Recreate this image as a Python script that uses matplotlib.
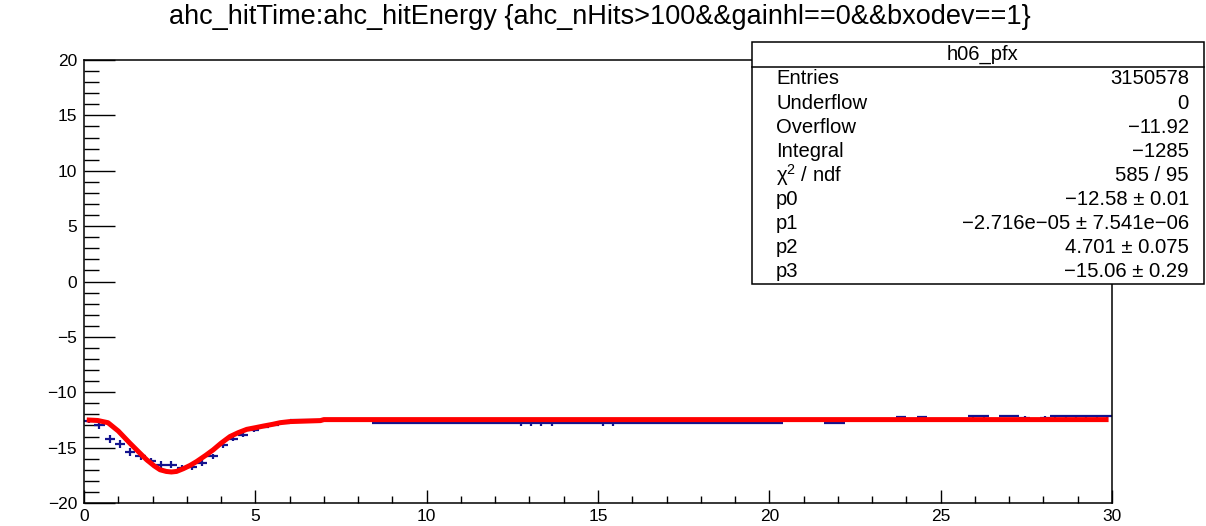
import numpy as np
import matplotlib
matplotlib.use('Agg')
import matplotlib.pyplot as plt
from matplotlib.patches import Rectangle
from matplotlib.lines import Line2D

plt.rcParams['font.family'] = ['Liberation Sans', 'DejaVu Sans']
plt.rcParams['mathtext.fontset'] = 'custom'
plt.rcParams['mathtext.rm'] = 'Liberation Sans'
plt.rcParams['mathtext.it'] = 'Liberation Sans:italic'

W, H = 1206, 526

# profile binning: 100 bins on [0, 30]
nbins = 100
xlo, xhi = 0.0, 30.0

# profile means (hitTime) per bin
prof_y = [
    -12.6, -12.95, -14.2, -14.7, -15.4, -15.8, -16.2, -16.55, -16.55, -16.8,
    -16.75, -16.4, -15.8, -14.8, -14.2, -13.85, -13.45, -13.15, -12.95, -12.8,
    -12.55, -12.55, -12.55, -12.55, -12.55, -12.55, -12.55, -12.55, -12.78, -12.78,
    -12.76, -12.74, -12.76, -12.74, -12.76, -12.74, -12.76, -12.74, -12.76, -12.74,
    -12.76, -12.74, -12.76, -12.78, -12.76, -12.78, -12.76, -12.74, -12.76, -12.74,
    -12.78, -12.76, -12.74, -12.76, -12.74, -12.76, -12.74, -12.76, -12.74, -12.76,
    -12.74, -12.76, -12.74, -12.76, -12.74, -12.76, -12.74, -12.76, -12.55, -12.55,
    -12.55, -12.55, -12.8, -12.8, -12.55, -12.55, -12.55, -12.55, -12.55, -12.25,
    -12.55, -12.25, -12.55, -12.55, -12.55, -12.55, -12.18, -12.18, -12.55, -12.15,
    -12.15, -12.3, -12.55, -12.3, -12.18, -12.18, -12.18, -12.18, -12.18, -12.18,
]
prof_err = [
    0.2, 0.4, 0.35, 0.35, 0.35, 0.35, 0.3, 0.3, 0.3, 0.25,
    0.25, 0.25, 0.25, 0.2, 0.2, 0.15, 0.12, 0.1, 0.1, 0.1,
    0.05, 0.05, 0.05, 0.05, 0.05, 0.05, 0.05, 0.05, 0.05, 0.05,
    0.05, 0.05, 0.05, 0.05, 0.05, 0.05, 0.05, 0.05, 0.05, 0.05,
    0.05, 0.05, 0.3, 0.3, 0.3, 0.3, 0.05, 0.05, 0.05, 0.05,
    0.3, 0.3, 0.05, 0.05, 0.05, 0.05, 0.05, 0.05, 0.05, 0.05,
    0.05, 0.05, 0.05, 0.05, 0.05, 0.05, 0.05, 0.05, 0.05, 0.05,
    0.05, 0.05, 0.05, 0.05, 0.05, 0.05, 0.05, 0.05, 0.05, 0.15,
    0.05, 0.15, 0.05, 0.05, 0.05, 0.05, 0.1, 0.1, 0.05, 0.1,
    0.1, 0.15, 0.05, 0.15, 0.1, 0.1, 0.1, 0.1, 0.1, 0.1,
]

# fitted function
fit_x = [0.08, 0.4, 0.7, 1.0, 1.34, 1.6, 1.83, 2.05, 2.22, 2.4, 2.55, 2.7, 2.9,
         3.1, 3.29, 3.55, 3.77, 4.0, 4.26, 4.5, 4.75, 5.0, 5.24, 5.5, 5.72,
         6.0, 6.9, 7.0, 29.9]
fit_y = [-12.5, -12.55, -12.75, -13.5, -14.6, -15.4, -16.1, -16.65, -17.0,
         -17.15, -17.2, -17.15, -16.9, -16.6, -16.25, -15.7, -15.2, -14.6,
         -14.0, -13.65, -13.35, -13.2, -13.05, -12.9, -12.75, -12.65, -12.56,
         -12.47, -12.47]

title = 'ahc_hitTime:ahc_hitEnergy {ahc_nHits>100&&gainhl==0&&bxodev==1}'
stats_name = 'h06_pfx'
stats_labels = ['Entries', 'Underflow', 'Overflow', 'Integral', 'χ$^{2}$ / ndf',
                'p0', 'p1', 'p2', 'p3']
stats_values = ['3150578', '0', '\u221211.92', '\u22121285', '585 / 95',
                '\u221212.58 \u00b1 0.01', '\u22122.716e\u221205 \u00b1 7.541e\u221206',
                '4.701 \u00b1 0.075', '\u221215.06 \u00b1 0.29']

edges = np.linspace(xlo, xhi, nbins + 1)
centers = 0.5 * (edges[:-1] + edges[1:])
halfw = 0.5 * (edges[1] - edges[0])

fig = plt.figure(figsize=(W / 100, H / 100), dpi=100)

def fx(px):
    return px / W

def fy(py):
    return 1 - py / H

# axes frame: x 84..1112, y 60..503 (pixels)
ax = fig.add_axes([fx(84), fy(503), fx(1112) - fx(84), fy(60) - fy(503)])
ax.set_xlim(xlo, xhi)
ax.set_ylim(-20, 20)

blue = '#14148f'
ax.errorbar(centers, prof_y, xerr=halfw, yerr=prof_err, fmt='none',
            ecolor=blue, elinewidth=1.6, capsize=0, zorder=2)
ax.plot(fit_x, fit_y, color='#ff0000', lw=3.6, solid_capstyle='butt', zorder=3)

ax.set_xticks(np.arange(0, 31, 5))
ax.set_xticks(np.arange(0, 31, 1), minor=True)
ax.set_yticks(np.arange(-20, 21, 5))
ax.set_yticks(np.arange(-20, 21, 1), minor=True)
ax.tick_params(which='both', direction='in', top=False, right=False,
               width=1.0, labelsize=12.5, colors='black')
ax.tick_params(axis='x', which='major', length=9.5, pad=4)
ax.tick_params(axis='x', which='minor', length=4.8)
ax.tick_params(axis='y', which='major', length=22, pad=5)
ax.tick_params(axis='y', which='minor', length=11)
for s in ax.spines.values():
    s.set_linewidth(1.1)

fig.text(fx(600), fy(17), title, ha='center', va='center', fontsize=19.5)

# statistics box
box_l, box_r, box_t, box_b = 752, 1204, 42, 284
fig.add_artist(Rectangle((fx(box_l), fy(box_b)), fx(box_r) - fx(box_l),
                         fy(box_t) - fy(box_b), transform=fig.transFigure,
                         facecolor='white', edgecolor='black', lw=1.1, zorder=5))
fig.add_artist(Line2D([fx(box_l), fx(box_r)], [fy(67), fy(67)],
                      transform=fig.transFigure, color='black', lw=1.1, zorder=6))
fig.text(fx(983), fy(54), stats_name, ha='center', va='center', fontsize=14.5, zorder=7)
row0, step = 79, 24.1
for i, (lab, val) in enumerate(zip(stats_labels, stats_values)):
    yy = fy(row0 + i * step)
    fig.text(fx(776), yy, lab, ha='left', va='center', fontsize=14.6, zorder=7)
    fig.text(fx(1189), yy, val, ha='right', va='center', fontsize=14.6, zorder=7)

fig.savefig('out.png', dpi=100, facecolor='white')
